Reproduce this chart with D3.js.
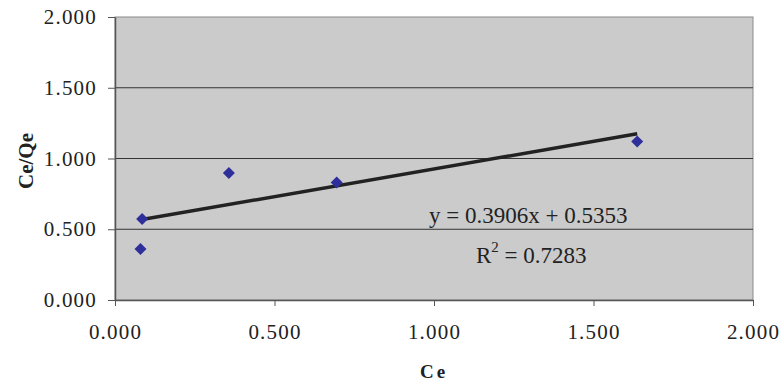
<!DOCTYPE html>
<html>
<head>
<meta charset="utf-8">
<script src="https://cdn.jsdelivr.net/npm/d3@7"></script>
<style>
  body { margin: 0; background: #fff; }
  text { font-family: "Times New Roman", "Liberation Serif", serif; fill: #222; }
</style>
</head>
<body>
<div id="chart"></div>
<script>
// data
var ceValues = [0.080, 0.085, 0.357, 0.695, 1.637];
var ceQeValues = [0.360, 0.573, 0.898, 0.830, 1.120];
var slope = 0.3906;
var intercept = 0.5353;
var rSquared = "0.7283";
var tickValues = [0, 0.5, 1.0, 1.5, 2.0];

function init() {
    var w = 784;
    var h = 387;

    var dataset = ceValues.map(function(x, i) { return { x: x, y: ceQeValues[i] }; });

    var xScale = d3.scaleLinear().domain([0, 2]).range([115, 753]);
    var yScale = d3.scaleLinear().domain([0, 2]).range([300, 17]);

    var svg = d3.select("#chart").append("svg")
        .attr("width", w)
        .attr("height", h);

    // plot area
    svg.append("rect")
        .attr("x", xScale(0))
        .attr("y", yScale(2))
        .attr("width", xScale(2) - xScale(0))
        .attr("height", yScale(0) - yScale(2))
        .attr("fill", "#cbcbcb")
        .attr("stroke", "#8a8a8a")
        .attr("stroke-width", 1);

    // horizontal gridlines
    svg.selectAll(".grid")
        .data(tickValues.slice(1, 4))
        .enter().append("line")
        .attr("x1", xScale(0))
        .attr("x2", xScale(2))
        .attr("y1", function(d) { return yScale(d); })
        .attr("y2", function(d) { return yScale(d); })
        .attr("stroke", "#333")
        .attr("stroke-width", 1);

    var fmt = d3.format(".3f");

    var xAxis = d3.axisBottom(xScale)
        .tickValues(tickValues)
        .tickFormat(fmt)
        .tickSizeInner(6)
        .tickSizeOuter(0)
        .tickPadding(18);

    var yAxis = d3.axisLeft(yScale)
        .tickValues(tickValues)
        .tickFormat(fmt)
        .tickSizeInner(7)
        .tickSizeOuter(0)
        .tickPadding(11);

    var gx = svg.append("g")
        .attr("transform", "translate(0," + yScale(0) + ")")
        .call(xAxis);

    var gy = svg.append("g")
        .attr("transform", "translate(" + xScale(0) + ",0)")
        .call(yAxis);

    [gx, gy].forEach(function(g) {
        g.attr("font-family", null);
        g.select(".domain").attr("stroke", "#555").attr("stroke-width", 1.5);
        g.selectAll(".tick line").attr("stroke", "#555");
        g.selectAll(".tick text")
            .attr("fill", "#333")
            .style("font-family", "'Times New Roman', 'Liberation Serif', serif")
            .style("font-size", "21px")
            .style("letter-spacing", "1.2px");
    });

    // trendline from min x to max x
    var xMin = d3.min(ceValues), xMax = d3.max(ceValues);
    svg.append("line")
        .attr("x1", xScale(xMin))
        .attr("y1", yScale(slope * xMin + intercept))
        .attr("x2", xScale(xMax))
        .attr("y2", yScale(slope * xMax + intercept))
        .attr("stroke", "#222")
        .attr("stroke-width", 3.5);

    // diamond markers
    svg.selectAll(".pt")
        .data(dataset)
        .enter().append("path")
        .attr("d", d3.symbol(d3.symbolSquare, 72))
        .attr("transform", function(d) {
            return "translate(" + xScale(d.x) + "," + yScale(d.y) + ") rotate(45)";
        })
        .attr("fill", "#2f2f9c");

    // trendline labels
    svg.append("text")
        .attr("x", 429)
        .attr("y", 223)
        .style("font-size", "23px")
        .text("y = 0.3906x + 0.5353");

    var r2 = svg.append("text")
        .attr("x", 476)
        .attr("y", 263)
        .style("font-size", "23px");
    r2.append("tspan").text("R");
    r2.append("tspan").attr("dy", -11).style("font-size", "15px").text("2");
    r2.append("tspan").attr("dy", 11).text(" = " + rSquared);

    // axis titles
    svg.append("text")
        .attr("x", 434)
        .attr("y", 378)
        .attr("text-anchor", "middle")
        .style("font-size", "19px")
        .style("font-weight", "bold")
        .style("letter-spacing", "3px")
        .text("Ce");

    svg.append("text")
        .attr("transform", "translate(33,161) rotate(-90)")
        .attr("text-anchor", "middle")
        .style("font-size", "21px")
        .style("font-weight", "bold")
        .text("Ce/Qe");
}

window.onload = init;
</script>
</body>
</html>
